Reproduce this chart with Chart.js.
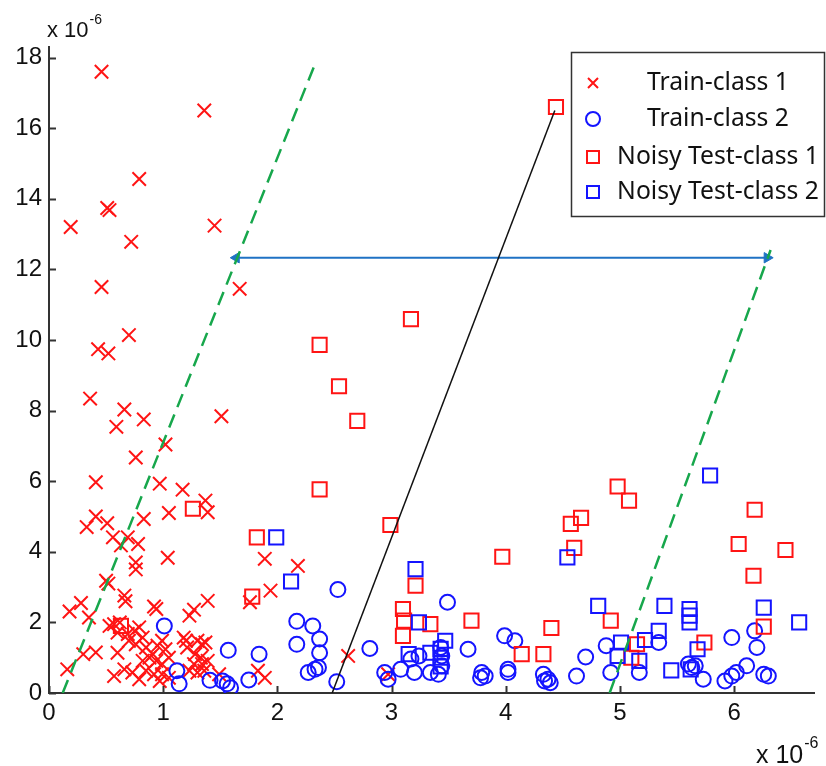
<!DOCTYPE html>
<html>
<head>
<meta charset="utf-8">
<script src="https://cdn.jsdelivr.net/npm/chart.js@4.4.1/dist/chart.umd.min.js"></script>
<style>
  html, body { margin: 0; padding: 0; background: #fff; }
</style>
</head>
<body>
<canvas id="myChart" width="826" height="766"></canvas>
<script>
// tick labels (values are x 10^-6)
const xTicks = [0, 1, 2, 3, 4, 5, 6];
const yTicks = [0, 2, 4, 6, 8, 10, 12, 14, 16, 18];

// Train-class 1 (red crosses)
const train1 = [
  [0.46,17.6],[1.36,16.5],[0.79,14.56],[0.51,13.74],[0.53,13.68],[0.19,13.2],[1.45,13.24],[0.72,12.78],
  [0.46,11.5],[1.67,11.45],[0.70,10.14],[0.43,9.74],[0.52,9.62],[0.36,8.34],[0.66,8.03],[0.83,7.75],
  [0.59,7.54],[1.51,7.84],[1.02,7.04],[0.76,6.67],[0.41,5.97],[0.97,5.93],[1.17,5.76],[1.37,5.45],
  [1.39,5.12],[1.05,5.1],[0.33,4.70],[0.41,5.0],[0.51,4.81],[0.83,4.93],[0.56,4.41],[0.69,4.41],
  [0.63,4.18],[0.78,4.22],[1.04,3.83],[0.76,3.7],[0.76,3.5],[0.50,3.18],[0.52,3.1],[0.66,2.76],
  [0.67,2.6],[0.92,2.45],[0.94,2.38],[0.28,2.55],[0.18,2.31],[0.35,2.14],[1.23,2.19],[1.27,2.36],
  [1.39,2.61],[1.76,2.57],[1.94,2.9],[1.89,3.8],[2.18,3.6],[0.16,0.67],[0.30,1.1],[0.41,1.15],
  [0.53,1.9],[0.57,1.95],[0.62,2.0],[0.60,1.71],[0.69,1.67],[0.75,1.76],[0.79,1.86],[0.82,1.57],
  [0.70,1.48],[0.76,1.38],[0.60,1.14],[0.85,1.29],[0.91,1.10],[0.95,1.34],[0.99,1.48],[1.02,1.24],
  [0.82,0.91],[0.88,1.0],[0.94,0.91],[0.99,0.82],[1.05,1.0],[0.57,0.48],[0.66,0.67],[0.73,0.58],
  [0.79,0.39],[0.85,0.63],[0.92,0.53],[0.99,0.53],[1.05,0.43],[0.97,0.34],[1.20,1.48],[1.18,1.57],
  [1.21,1.29],[1.30,1.48],[1.34,1.38],[1.37,1.43],[1.28,1.10],[1.33,1.0],[1.34,0.82],[1.27,0.82],
  [1.23,0.63],[1.30,0.58],[1.36,0.63],[1.39,0.91],[1.49,0.53],[1.83,0.63],[1.89,0.43],[2.62,1.05],
  [2.97,0.53]
];

// Train-class 2 (blue circles)
const train2 = [
  [1.01,1.9],[1.12,0.63],[1.14,0.26],[1.57,1.21],[1.41,0.36],[1.52,0.34],[1.56,0.26],[1.59,0.15],
  [1.75,0.37],[1.84,1.1],[2.17,2.03],[2.31,1.9],[2.37,1.53],[2.37,1.14],[2.17,1.38],[2.27,0.58],
  [2.33,0.67],[2.36,0.72],[2.53,2.93],[2.52,0.32],[2.81,1.26],[2.94,0.58],[2.97,0.39],[3.08,0.67],
  [3.49,2.57],[3.17,0.96],[3.24,1.05],[3.2,0.58],[3.34,0.58],[3.41,0.53],[3.43,1.29],[3.44,1.05],
  [3.44,0.77],[3.67,1.24],[3.79,0.58],[3.82,0.48],[3.78,0.43],[3.99,1.62],[4.08,1.48],[4.02,0.67],
  [4.02,0.58],[4.33,0.53],[4.37,0.39],[4.39,0.29],[4.34,0.34],[4.62,0.48],[4.70,1.02],[4.88,1.34],
  [4.92,0.58],[5.17,0.58],[5.34,1.43],[5.6,0.82],[5.63,0.72],[5.66,0.77],[5.73,0.39],[5.98,1.57],
  [6.18,1.76],[6.2,1.29],[5.92,0.34],[5.98,0.48],[6.02,0.58],[6.11,0.77],[6.26,0.53],[6.3,0.48]
];

// Noisy Test-class 1 (red squares)
const test1 = [
  [4.44,16.6],[3.17,10.59],[2.37,9.86],[2.54,8.69],[2.70,7.71],[2.37,5.77],[2.99,4.76],[1.82,4.41],
  [1.26,5.22],[1.78,2.73],[0.63,1.9],[3.21,3.04],[3.10,2.38],[3.11,2.05],[3.10,1.62],[3.34,1.95],
  [3.70,2.05],[3.97,3.86],[4.60,4.11],[4.40,1.84],[4.14,1.10],[4.33,1.10],[4.92,2.05],[4.98,5.85],
  [5.08,5.45],[4.66,4.96],[4.57,4.79],[6.18,5.19],[6.04,4.22],[6.45,4.05],[6.17,3.32],[6.26,1.88],
  [5.15,1.38],[5.10,1.0],[5.74,1.43]
];

// Noisy Test-class 2 (blue squares)
const test2 = [
  [1.99,4.41],[2.12,3.16],[3.21,3.51],[3.24,2.0],[3.47,1.48],[3.43,1.25],[3.43,1.0],[3.43,0.75],
  [3.15,1.1],[3.34,1.14],[4.54,3.84],[4.81,2.47],[5.39,2.47],[5.61,2.38],[5.61,2.19],[5.61,2.0],
  [6.26,2.42],[6.57,2.0],[5.34,1.76],[5.22,1.5],[5.01,1.43],[4.98,1.05],[5.17,0.91],[5.68,1.24],
  [5.45,0.64],[5.62,0.67],[5.79,6.16]
];

// guide lines
const boundaryLeft = [[0.12,0],[2.34,17.9]];
const boundaryRight = [[4.91,0],[6.32,12.55]];
const shiftLine = [[2.48,0],[4.43,16.5]];
const marginArrow = [[1.64,12.33],[6.29,12.33]];

const legendLabels = ['Train-class 1', 'Train-class 2', 'Noisy Test-class 1', 'Noisy Test-class 2'];

const RED = '#ff1414';
const BLUE = '#1414ff';
const GREEN = '#17a74c';
const ARROW = '#1f72c4';
const TICK_FONT = '"Liberation Sans", Arial, sans-serif';

const pts = arr => arr.map(([x, y]) => ({ x, y }));

function lineSet(data, color, dash, width) {
  return {
    data: pts(data), showLine: true, borderColor: color, borderWidth: width,
    borderDash: dash, pointRadius: 0, fill: false, order: 0
  };
}

// "x 10^-6" with the exponent tucked against the base
function expLabel(ctx, x, y, size) {
  ctx.font = size + 'px ' + TICK_FONT;
  ctx.fillText('x 10', x, y);
  const w = ctx.measureText('x 10').width;
  ctx.font = Math.round(size * 0.65) + 'px ' + TICK_FONT;
  ctx.fillText('-6', x + w + 1, y - size * 0.6);
}

// inward tick marks, exponent labels and the boxed legend
const extras = {
  id: 'extras',
  afterDraw(chart) {
    const ctx = chart.ctx;
    const xs = chart.scales.x, ys = chart.scales.y;
    const area = chart.chartArea;
    ctx.save();
    ctx.strokeStyle = '#333';
    ctx.lineWidth = 2;
    ctx.beginPath();
    xTicks.forEach(v => {
      const px = Math.round(xs.getPixelForValue(v)) + 0.5;
      ctx.moveTo(px, area.bottom); ctx.lineTo(px, area.bottom - 7);
    });
    yTicks.forEach(v => {
      const py = Math.round(ys.getPixelForValue(v)) + 0.5;
      ctx.moveTo(area.left, py); ctx.lineTo(area.left + 7, py);
    });
    ctx.stroke();

    ctx.fillStyle = '#111';
    ctx.textBaseline = 'alphabetic';
    expLabel(ctx, 47, 37, 22);
    expLabel(ctx, 756, 763, 25);

    // legend box
    ctx.fillStyle = '#fff';
    ctx.fillRect(571, 52, 254, 165);
    ctx.strokeStyle = '#333';
    ctx.lineWidth = 1.5;
    ctx.strokeRect(571.5, 52.5, 253, 164);

    ctx.font = '20px "Noto Sans", sans-serif';
    const w = ctx.measureText('Noisy Test-class 1').width;
    const size = 20 * 202 / w;
    ctx.font = size.toFixed(1) + 'px "Noto Sans", sans-serif';
    ctx.textAlign = 'center';
    ctx.textBaseline = 'middle';
    const rowY = [83, 119, 157, 192];
    const mx = 593;
    legendLabels.forEach((t, i) => {
      const y = rowY[i];
      ctx.fillStyle = '#111';
      ctx.fillText(t, 718, y);
      ctx.lineWidth = 2;
      ctx.beginPath();
      if (i === 0) {
        ctx.strokeStyle = RED;
        ctx.moveTo(mx - 5, y - 5); ctx.lineTo(mx + 5, y + 5);
        ctx.moveTo(mx + 5, y - 5); ctx.lineTo(mx - 5, y + 5);
      } else if (i === 1) {
        ctx.strokeStyle = BLUE;
        ctx.arc(mx, y, 7, 0, Math.PI * 2);
      } else {
        ctx.strokeStyle = i === 2 ? RED : BLUE;
        ctx.rect(mx - 6, y - 6, 12, 12);
      }
      ctx.stroke();
    });
    ctx.restore();
  }
};

new Chart(document.getElementById('myChart'), {
  type: 'scatter',
  data: {
    datasets: [
      { data: pts(train1), pointStyle: 'crossRot', pointRadius: 9.5, pointBorderWidth: 2,
        borderColor: RED, backgroundColor: RED, order: 4 },
      { data: pts(train2), pointStyle: 'circle', pointRadius: 7.5, pointBorderWidth: 2,
        borderColor: BLUE, backgroundColor: 'rgba(0,0,0,0)', order: 3 },
      { data: pts(test1), pointStyle: 'rect', pointRadius: 10, pointBorderWidth: 2,
        borderColor: RED, backgroundColor: 'rgba(0,0,0,0)', order: 2 },
      { data: pts(test2), pointStyle: 'rect', pointRadius: 10, pointBorderWidth: 2,
        borderColor: BLUE, backgroundColor: 'rgba(0,0,0,0)', order: 1 },
      lineSet(boundaryLeft, GREEN, [14, 8], 2.5),
      lineSet(boundaryRight, GREEN, [14, 8], 2.5),
      lineSet(shiftLine, '#111', [], 1.5),
      Object.assign(lineSet(marginArrow, ARROW, [], 2), {
        pointRadius: 6, pointStyle: 'triangle', pointRotation: [-90, 90],
        pointBackgroundColor: ARROW, pointBorderColor: ARROW, pointBorderWidth: 1
      })
    ]
  },
  options: {
    responsive: false,
    animation: false,
    devicePixelRatio: 1,
    layout: { padding: { top: 47, right: 4, left: 0, bottom: 0 } },
    plugins: { legend: { display: false }, tooltip: { enabled: false } },
    scales: {
      x: {
        type: 'linear', min: 0, max: 6.7,
        afterBuildTicks: s => { s.ticks = xTicks.map(v => ({ value: v })); },
        afterFit: s => { s.height = 73; },
        grid: { display: false, drawTicks: false },
        border: { display: true, color: '#333', width: 2 },
        ticks: { padding: 6, color: '#111', font: { family: TICK_FONT, size: 24 }, maxRotation: 0 }
      },
      y: {
        type: 'linear', min: 0, max: 18.3,
        afterBuildTicks: s => { s.ticks = yTicks.map(v => ({ value: v })); },
        afterFit: s => { s.width = 49; },
        grid: { display: false, drawTicks: false },
        border: { display: true, color: '#333', width: 2 },
        ticks: { padding: 7, color: '#111', font: { family: TICK_FONT, size: 24 } }
      }
    }
  },
  plugins: [extras]
});
</script>
</body>
</html>
